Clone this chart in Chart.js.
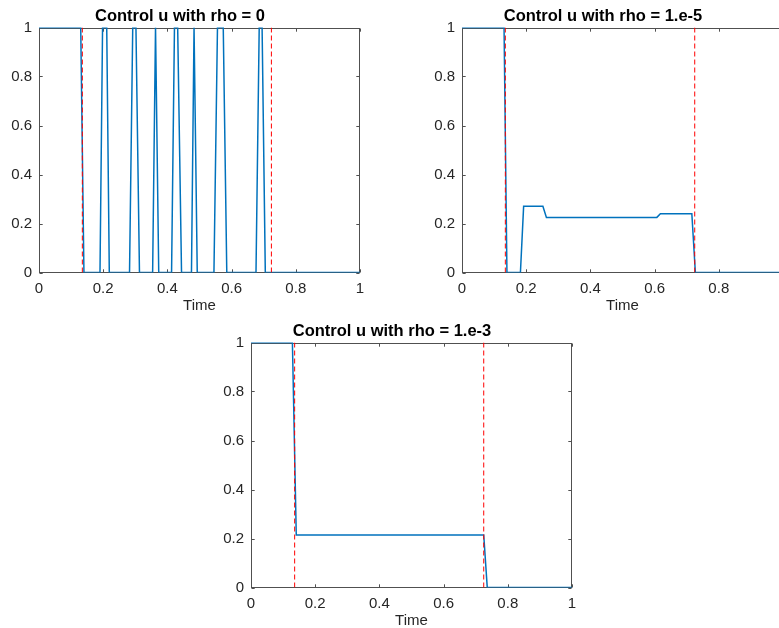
<!DOCTYPE html>
<html>
<head>
<meta charset="utf-8">
<script src="https://cdn.jsdelivr.net/npm/chart.js@4.4.0/dist/chart.umd.min.js"></script>
<style>
  html, body { margin: 0; padding: 0; background: #fff; overflow: hidden; }
  body { width: 779px; height: 628px; position: relative; }
  .panel { position: absolute; width: 380px; height: 320px; }
</style>
</head>
<body>
<div class="panel" style="left:0px;top:0px"><canvas id="c0" width="380" height="320"></canvas></div>
<div class="panel" style="left:423px;top:0px"><canvas id="c5" width="380" height="320"></canvas></div>
<div class="panel" style="left:212px;top:315px"><canvas id="c3" width="380" height="320"></canvas></div>
<script>
// ticks (MATLAB style axes)
const xTicks = [0, 0.2, 0.4, 0.6, 0.8, 1];
const xTickLabels = ['0', '0.2', '0.4', '0.6', '0.8', '1'];
const yTicks = [0, 0.2, 0.4, 0.6, 0.8, 1];
const yTickLabels = ['0', '0.2', '0.4', '0.6', '0.8', '1'];

// rho = 0 : bang-bang
const time0 = [0, 0.13, 0.14, 0.19, 0.198, 0.211, 0.219, 0.282, 0.292, 0.302, 0.313, 0.354, 0.363, 0.373,
               0.413, 0.422, 0.432, 0.444, 0.475, 0.483, 0.493, 0.545, 0.556, 0.574, 0.585, 0.676, 0.686,
               0.695, 0.705, 1];
const u0    = [1, 1, 0, 0, 1, 1, 0, 0, 1, 1, 0, 0, 1, 0,
               0, 1, 1, 0, 0, 1, 0, 0, 1, 1, 0, 0, 1,
               1, 0, 0];
const switch0 = [0.135, 0.724];

// rho = 1.e-5
const time5 = [0, 0.131, 0.140, 0.182, 0.192, 0.252, 0.263, 0.607, 0.618, 0.716, 0.727, 1];
const u5    = [1, 1, 0, 0, 0.27, 0.27, 0.225, 0.225, 0.24, 0.24, 0, 0];
const switch5 = [0.135, 0.725];

// rho = 1.e-3
const time3 = [0, 0.129, 0.141, 0.725, 0.736, 1];
const u3    = [1, 1, 0.214, 0.214, 0, 0];
const switch3 = [0.136, 0.725];

const FONT = '"Liberation Sans", Arial, Helvetica, sans-serif';
const INK = '#262626';
const BLUE = '#0072BD';
const TICK_LEN = 3.2;

// box + inward ticks, drawn under the data like matlab does
const boxAxes = {
  id: 'boxAxes',
  beforeDatasetsDraw(chart) {
    const { ctx, chartArea: a, scales: { x, y } } = chart;
    const L = Math.round(a.left) + 0.5, R = Math.round(a.right) - 0.5;
    const T = Math.round(a.top) + 0.5, B = Math.round(a.bottom) - 0.5;
    ctx.save();
    ctx.strokeStyle = '#505050';
    ctx.lineWidth = 1;
    ctx.strokeRect(L, T, R - L, B - T);
    ctx.beginPath();
    xTicks.forEach(v => {
      const px = Math.round(x.getPixelForValue(v)) + 0.5;
      ctx.moveTo(px, B); ctx.lineTo(px, B - TICK_LEN);
      ctx.moveTo(px, T); ctx.lineTo(px, T + TICK_LEN);
    });
    yTicks.forEach(v => {
      const py = Math.round(y.getPixelForValue(v)) + 0.5;
      ctx.moveTo(L, py); ctx.lineTo(L + TICK_LEN, py);
      ctx.moveTo(R, py); ctx.lineTo(R - TICK_LEN, py);
    });
    ctx.stroke();
    ctx.restore();
  }
};

function makePlot(canvasId, title, t, u, sw) {
  const pts = t.map((x, i) => ({ x, y: u[i] }));
  const lines = sw.map(s => ({
    data: [{ x: s, y: yTicks[0] }, { x: s, y: yTicks[yTicks.length - 1] }],
    borderColor: '#ff0000', borderWidth: 1, borderDash: [5, 3],
    pointRadius: 0, order: 0
  }));

  new Chart(document.getElementById(canvasId), {
    type: 'line',
    data: {
      datasets: [
        { data: pts, borderColor: BLUE, borderWidth: 1.5, pointRadius: 0, tension: 0, order: 1 },
        ...lines
      ]
    },
    options: {
      responsive: false, animation: false, devicePixelRatio: 1,
      layout: { padding: { left: 0, right: 20, top: 0, bottom: 0 } },
      plugins: {
        legend: { display: false },
        tooltip: { enabled: false },
        title: {
          display: true, text: title, color: '#000',
          font: { family: FONT, size: 16.5, weight: 'bold' },
          padding: { top: 6.1, bottom: 1.6 }
        }
      },
      scales: {
        x: {
          type: 'linear', min: 0, max: 1,
          grid: { display: false, drawTicks: false },
          border: { display: false },
          afterBuildTicks: s => { s.ticks = xTicks.map(v => ({ value: v })); },
          afterFit: s => { s.height = 47.5; s.paddingLeft = 0; s.paddingRight = 0; },
          ticks: {
            color: INK, font: { family: FONT, size: 15 }, padding: 7,
            maxRotation: 0, autoSkip: false,
            callback: (v, i) => xTickLabels[i]
          },
          title: {
            display: true, text: 'Time', color: INK,
            font: { family: FONT, size: 15 }, padding: { top: 0, bottom: 5 }
          }
        },
        y: {
          min: 0, max: 1,
          grid: { display: false, drawTicks: false },
          border: { display: false },
          afterBuildTicks: s => { s.ticks = yTicks.map(v => ({ value: v })); },
          afterFit: s => { s.width = 39; s.paddingTop = 0; s.paddingBottom = 0; },
          ticks: {
            color: INK, font: { family: FONT, size: 15 }, padding: 7,
            callback: (v, i) => yTickLabels[i]
          }
        }
      }
    },
    plugins: [boxAxes]
  });
}

makePlot('c0', 'Control u with rho = 0', time0, u0, switch0);
makePlot('c5', 'Control u with rho = 1.e-5', time5, u5, switch5);
makePlot('c3', 'Control u with rho = 1.e-3', time3, u3, switch3);
</script>
</body>
</html>
